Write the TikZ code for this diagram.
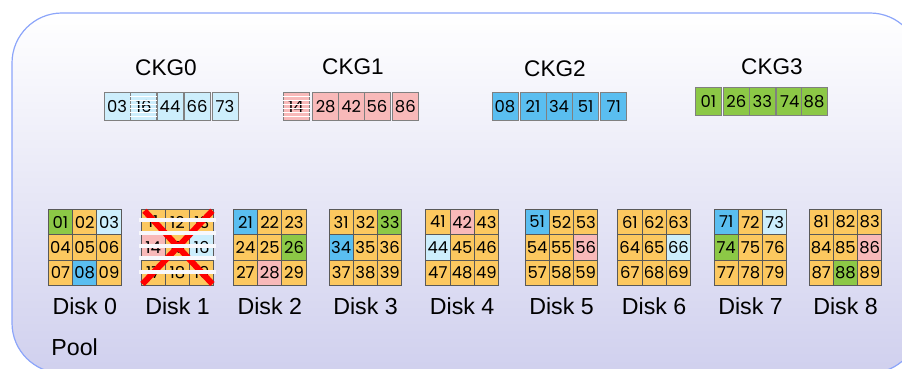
\documentclass[tikz,border=0pt]{standalone}
\usepackage{fontspec}
\setmainfont{Liberation Sans}
\newfontfamily\cellfont{Poppins}
\definecolor{ckO}{RGB}{252,200,95}
\definecolor{ckG}{RGB}{140,200,70}
\definecolor{ckB}{RGB}{90,190,240}
\definecolor{ckL}{RGB}{205,238,252}
\definecolor{ckP}{RGB}{248,185,185}
\definecolor{poolline}{RGB}{140,165,250}
\definecolor{poolbot}{RGB}{208,208,238}
\tikzset{
  cell/.style={draw=black!65, line width=0.5pt, minimum width=12.15pt, minimum height=12.7pt,
    inner sep=0pt, font=\cellfont\fontsize{8.2}{8.2}\selectfont},
  ckbox/.style={cell, minimum width=13pt, minimum height=14pt, draw=black!50},
  title/.style={font=\fontsize{11.3}{13}\selectfont},
  disklabel/.style={font=\fontsize{11.6}{13}\selectfont},
}
\begin{document}
\begin{tikzpicture}[x=0.5pt,y=-0.5pt]
\useasboundingbox (0,0) rectangle (902,369);
% pool background
\shade[top color=white, bottom color=poolbot, draw=poolline, line width=0.6pt,
  rounded corners=25pt] (12,13) rectangle (920,373);
% chunk groups
\foreach \g/\cx/\cy/\by/\lst in {
  0/166/68/106.7/{104/03/ckL,130.7/16/ckL,157/44/ckL,184/66/ckL,212/73/ckL},
  1/353/67/106.7/{283/14/ckP,312.7/28/ckP,338.3/42/ckP,364/56/ckP,392.3/86/ckP},
  2/555/69/106.7/{492/08/ckB,520/21/ckB,546/34/ckB,572.7/51/ckB,600.7/71/ckB},
  3/772/67/101.7/{695.3/01/ckG,723.3/26/ckG,749.3/33/ckG,776.7/74/ckG,801/88/ckG}}{
  \node[title] (ckg\g) at (\cx,\cy) {CKG\g};
  \foreach \bx/\num/\col in \lst
    \node[ckbox, fill=\col] (ckg\g-\num) at (\bx+13,\by) {\num};
}
% lost chunks
\foreach \lost in {ckg0-16, ckg1-14}
  \foreach \k in {1,...,6}
    \draw[white, line width=0.6pt] ([yshift=-\k*2pt]\lost.north west) -- ([yshift=-\k*2pt]\lost.north east);
% disks
\foreach \d/\xl/\cols in {
  0/48.3/{ckG,ckO,ckL,ckO,ckO,ckO,ckO,ckB,ckO},
  1/141/{ckO,ckO,ckO,ckP,ckO,ckL,ckO,ckO,ckO},
  2/233.3/{ckB,ckO,ckO,ckO,ckO,ckG,ckO,ckP,ckO},
  3/329/{ckO,ckO,ckG,ckB,ckO,ckO,ckO,ckO,ckO},
  4/425.7/{ckO,ckP,ckO,ckL,ckO,ckO,ckO,ckO,ckO},
  5/525/{ckB,ckO,ckO,ckO,ckO,ckP,ckO,ckO,ckO},
  6/617.7/{ckO,ckO,ckO,ckO,ckO,ckL,ckO,ckO,ckO},
  7/714/{ckB,ckO,ckL,ckG,ckO,ckO,ckO,ckO,ckO},
  8/809/{ckO,ckO,ckO,ckO,ckO,ckP,ckO,ckG,ckO}}{
  \foreach \c [count=\n] in \cols {
    \pgfmathtruncatemacro\r{(\n-1)/3}
    \pgfmathtruncatemacro\q{mod(\n-1,3)}
    \node[cell, fill=\c] (d\d-\n) at (\xl+12.15+24.3*\q, 222+25.4*\r) {\d\n};
  }
  \node[disklabel] (disk\d) at (\xl+36.5,306) {Disk \d};
}
% failed disk
\draw[red, line width=3pt] ([shift={(2pt,-1pt)}]d1-1.north west) -- ([shift={(-1pt,1pt)}]d1-9.south east);
\draw[red, line width=3pt] ([shift={(-1pt,-1pt)}]d1-3.north east) -- ([shift={(1pt,1pt)}]d1-7.south west);
\foreach \sy in {220,233,246.5,258,272}
  \draw[white!85!poolbot, line width=2pt] (139,\sy) -- (216,\sy);
\node[disklabel, anchor=west, inner sep=0pt] (pool) at (51,347) {Pool};
\end{tikzpicture}
\end{document}
